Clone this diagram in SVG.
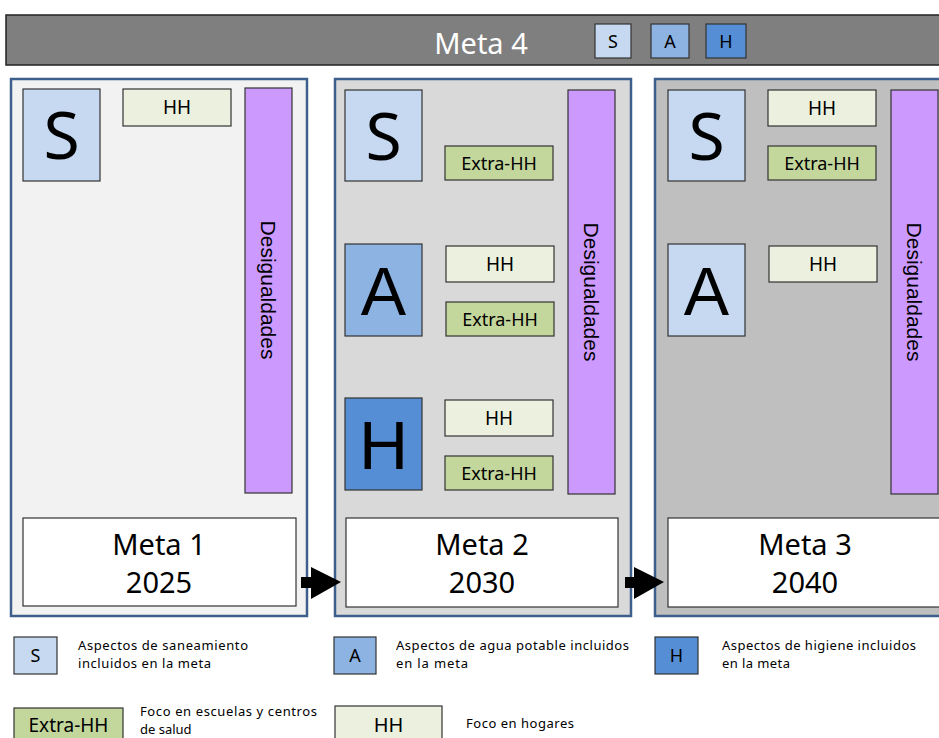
<svg xmlns="http://www.w3.org/2000/svg" width="939" height="738" viewBox="0 0 939 738">
<style>
.panel{stroke:#3C5F8C;stroke-width:2.5}
.box{stroke:#333333;stroke-width:1.2}
.s{fill:#C6D9F1}.a{fill:#8DB3E2}.h{fill:#558ED5}
.hh{fill:#EBF1DE}.ex{fill:#C3D69B}
.des{fill:#CC99FF;stroke:#333333;stroke-width:1.2}
.meta{fill:#FFFFFF;stroke:#333333;stroke-width:1.2}
text{font-family:"Noto Sans","DejaVu Sans",sans-serif;fill:#000}
.t{text-anchor:middle}
.big{font-size:66px}
.bigA{font-family:"Liberation Sans",Arial,sans-serif;font-size:68px}
.lbl{font-size:19px}
.lblx{font-size:18px}
.mt{font-size:29px}
.dv{font-family:"Liberation Sans",Arial,sans-serif;font-size:21px;text-anchor:middle;dominant-baseline:central}
.leg{font-size:13px}
.sm{font-size:18px}
</style>
<rect width="939" height="738" fill="#FFFFFF"/>

<g id="banner">
  <rect x="6" y="15" width="950" height="50" fill="#7F7F7F" stroke="#222" stroke-width="1.5"/>
  <text x="481" y="54" class="t" style="font-size:29px;fill:#FFFFFF">Meta 4</text>
  <rect x="595" y="24" width="36" height="34" class="box s"/>
  <text x="613" y="48" class="t sm">S</text>
  <rect x="651" y="24" width="38" height="34" class="box a"/>
  <text x="670" y="48" class="t sm">A</text>
  <rect x="706" y="24" width="40" height="34" class="box h"/>
  <text x="726" y="48" class="t sm">H</text>
</g>

<g id="panel1">
  <rect x="11" y="79" width="296" height="537" class="panel" fill="#F2F2F2"/>
  <g id="p1-S"><rect x="23" y="89" width="77" height="92" class="box s"/><text x="61.5" y="159" class="t big">S</text></g>
  <g id="p1-HH"><rect x="123" y="89" width="108" height="37" class="box hh"/><text x="177" y="114" class="t lbl">HH</text></g>
  <g id="p1-des"><rect x="245" y="88" width="47" height="405" class="des"/><text transform="translate(268,290) rotate(90)" class="dv">Desigualdades</text></g>
  <g id="meta1"><rect x="23" y="518" width="273" height="88" class="meta"/><text x="159" y="555" class="t mt">Meta 1</text><text x="159" y="593" class="t mt">2025</text></g>
</g>

<g id="panel2">
  <rect x="335" y="79" width="296" height="537" class="panel" fill="#D9D9D9"/>
  <g id="p2-S"><rect x="345" y="90" width="77" height="91" class="box s"/><text x="383.5" y="160" class="t big">S</text></g>
  <g id="p2-ex1"><rect x="445" y="146" width="108" height="34" class="box ex"/><text x="499" y="170" class="t lblx">Extra-HH</text></g>
  <g id="p2-A"><rect x="345" y="244" width="77" height="92" class="box a"/><text x="383.5" y="315" class="t bigA">A</text></g>
  <g id="p2-HH1"><rect x="446" y="246" width="108" height="36" class="box hh"/><text x="500" y="271" class="t lbl">HH</text></g>
  <g id="p2-ex2"><rect x="446" y="302" width="108" height="34" class="box ex"/><text x="500" y="326" class="t lblx">Extra-HH</text></g>
  <g id="p2-H"><rect x="345" y="398" width="77" height="92" class="box h"/><text x="383.5" y="469" class="t bigA">H</text></g>
  <g id="p2-HH2"><rect x="445" y="400" width="108" height="36" class="box hh"/><text x="499" y="425" class="t lbl">HH</text></g>
  <g id="p2-ex3"><rect x="445" y="456" width="108" height="34" class="box ex"/><text x="499" y="480" class="t lblx">Extra-HH</text></g>
  <g id="p2-des"><rect x="568" y="90" width="47" height="404" class="des"/><text transform="translate(591,292) rotate(90)" class="dv">Desigualdades</text></g>
  <g id="meta2"><rect x="346" y="518" width="272" height="89" class="meta"/><text x="482" y="555" class="t mt">Meta 2</text><text x="482" y="593" class="t mt">2030</text></g>
</g>

<g id="panel3">
  <rect x="655" y="79" width="300" height="537" class="panel" fill="#BFBFBF"/>
  <g id="p3-S"><rect x="668" y="90" width="77" height="91" class="box s"/><text x="706.5" y="160" class="t big">S</text></g>
  <g id="p3-HH1"><rect x="768" y="90" width="108" height="36" class="box hh"/><text x="822" y="115" class="t lbl">HH</text></g>
  <g id="p3-ex1"><rect x="768" y="146" width="108" height="34" class="box ex"/><text x="822" y="170" class="t lblx">Extra-HH</text></g>
  <g id="p3-A"><rect x="668" y="244" width="77" height="92" class="box s"/><text x="706.5" y="315" class="t bigA">A</text></g>
  <g id="p3-HH2"><rect x="769" y="246" width="108" height="36" class="box hh"/><text x="823" y="271" class="t lbl">HH</text></g>
  <g id="p3-des"><rect x="891" y="90" width="47" height="404" class="des"/><text transform="translate(914,292) rotate(90)" class="dv">Desigualdades</text></g>
  <g id="meta3"><rect x="668" y="518" width="290" height="89" class="meta"/><text x="805" y="555" class="t mt">Meta 3</text><text x="805" y="593" class="t mt">2040</text></g>
</g>

<g id="connectors" fill="#000">
  <polygon points="301,577 311,577 311,567 341,582 311,599 311,588 301,588"/>
  <polygon points="625,577 634,577 634,567 664,582 634,599 634,588 625,588"/>
</g>

<g id="legend">
  <g id="leg-S"><rect x="14" y="637" width="43" height="37" class="box s"/><text x="35.5" y="662" class="t sm">S</text>
    <text x="78" y="650" class="leg" textLength="170">Aspectos de saneamiento</text>
    <text x="78" y="668" class="leg" textLength="133">incluidos en la meta</text></g>
  <g id="leg-A"><rect x="334" y="637" width="42" height="37" class="box a"/><text x="355" y="662" class="t sm">A</text>
    <text x="396" y="650" class="leg" textLength="233">Aspectos de agua potable incluidos</text>
    <text x="396" y="668" class="leg" textLength="72">en la meta</text></g>
  <g id="leg-H"><rect x="655" y="637" width="43" height="37" class="box h"/><text x="676.5" y="662" class="t sm">H</text>
    <text x="722" y="650" class="leg" textLength="194">Aspectos de higiene incluidos</text>
    <text x="722" y="668" class="leg" textLength="68">en la meta</text></g>
  <g id="leg-ex"><rect x="14" y="708" width="109" height="40" class="box ex"/><text x="68.5" y="732" class="t" style="font-size:19px">Extra-HH</text>
    <text x="140" y="716" class="leg" textLength="177">Foco en escuelas y centros</text>
    <text x="140" y="734" class="leg">de salud</text></g>
  <g id="leg-HH"><rect x="335" y="706" width="107" height="42" class="box hh"/><text x="388.5" y="732" class="t" style="font-size:20px">HH</text>
    <text x="466" y="728" class="leg" textLength="108">Foco en hogares</text></g>
</g>
</svg>
